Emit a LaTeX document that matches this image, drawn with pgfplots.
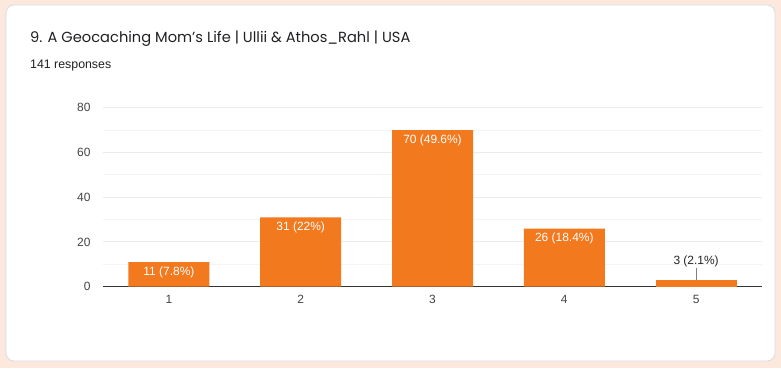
\documentclass[border=0pt]{standalone}
\usepackage{pgfplots}
\pgfplotsset{compat=1.18}
\usepackage{fontspec}
\setmainfont{Liberation Sans}
\newfontfamily\titlefont{Poppins}
\definecolor{peach}{RGB}{252,232,220}
\definecolor{cardborder}{RGB}{218,220,224}
\definecolor{barc}{RGB}{243,121,31}
\definecolor{tickc}{RGB}{68,68,68}
\definecolor{titlec}{RGB}{32,33,36}
\definecolor{majgrid}{RGB}{235,235,235}
\definecolor{mingrid}{RGB}{244,244,244}
\begin{document}
\begin{tikzpicture}[x=1bp,y=1bp]
\fill[peach] (0,0) rectangle (781,368);
\filldraw[fill=white, draw=cardborder, line width=0.8bp, rounded corners=8bp] (6,7) rectangle (775,363);
\node[anchor=base west, inner sep=0pt, text=titlec, font=\titlefont\fontsize{14.7}{18}\selectfont] at (30,326) {9. A Geocaching Mom’s Life | Ullii \& Athos\_Rahl | USA};
\node[anchor=base west, inner sep=0pt, text=titlec, font=\fontsize{12.4}{15}\selectfont] at (30,299.5) {141 responses};
\begin{axis}[
  at={(103bp,81.3bp)}, anchor=south west,
  scale only axis, width=659bp, height=179bp,
  xmin=0.5, xmax=5.5, ymin=0, ymax=80,
  xtick={1,2,3,4,5},
  ytick={0,20,40,60,80},
  minor ytick={10,30,50,70},
  ymajorgrids, yminorgrids,
  major grid style={draw=majgrid, line width=1bp},
  minor grid style={draw=mingrid, line width=1bp},
  axis lines*=left,
  y axis line style={draw=none},
  x axis line style={draw=black!80, line width=1.2bp},
  major tick length=0pt, minor tick length=0pt,
  tick style={draw=none},
  /pgf/number format/assume math mode=true,
  ticklabel style={font=\fontsize{12}{14}\selectfont, text=tickc},
  yticklabel style={xshift=-9bp},
  xticklabel style={yshift=-5bp},
  clip=false,
]
\addplot[ybar, bar width=81bp, bar shift=0pt, fill=barc, draw=none,
  point meta=explicit symbolic,
  nodes near coords, nodes near coords align={below},
  every node near coord/.append style={anchor=north, yshift=-1bp, text=white, font=\fontsize{12}{14}\selectfont}]
  coordinates {(1,11) [11 (7.8\%)] (2,31) [31 (22\%)] (3,70) [70 (49.6\%)] (4,26) [26 (18.4\%)]};
\addplot[ybar, bar width=81bp, bar shift=0pt, fill=barc, draw=none,
  point meta=explicit symbolic,
  nodes near coords, nodes near coords align={above},
  every node near coord/.append style={anchor=south, yshift=11bp, inner sep=1.5bp, text=black!85, font=\fontsize{12}{14}\selectfont}]
  coordinates {(5,3) [3 (2.1\%)]};
\draw[gray, line width=0.7bp] (axis cs:5,3) -- ([yshift=12bp]axis cs:5,3);
\end{axis}
\end{tikzpicture}
\end{document}
